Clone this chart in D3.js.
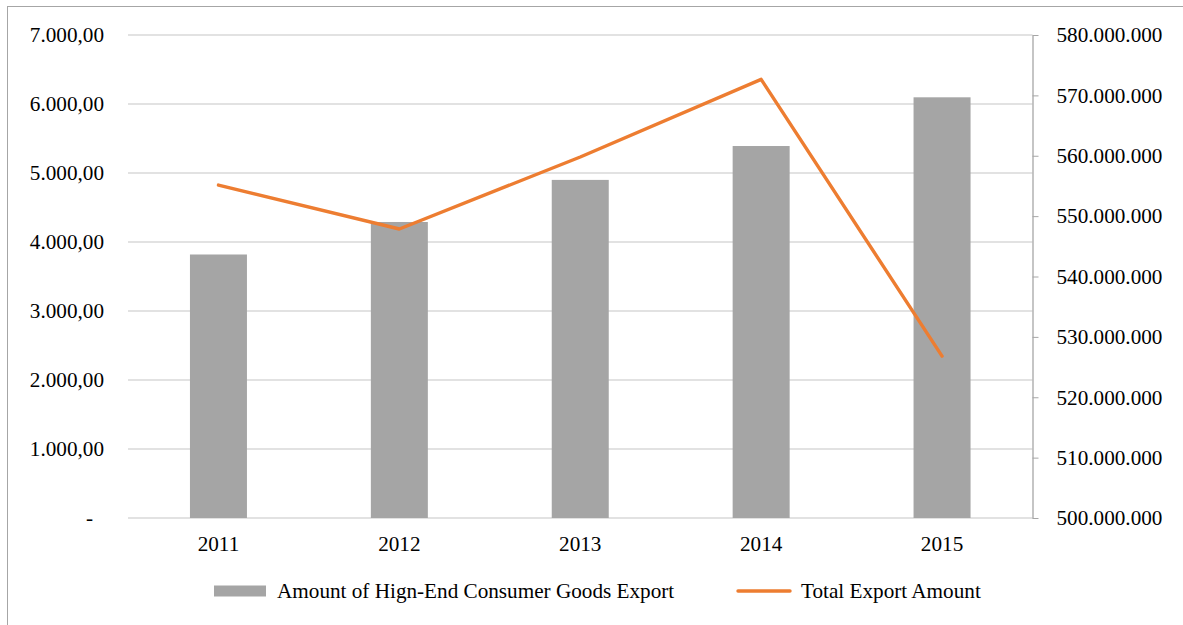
<!DOCTYPE html>
<html>
<head>
<meta charset="utf-8">
<script src="https://cdn.jsdelivr.net/npm/d3@7"></script>
<style>
  html, body { margin: 0; padding: 0; background: #fff; }
  svg { display: block; }
  text { font-family: "Liberation Serif", "Times New Roman", serif; fill: #000; }
</style>
</head>
<body>
<svg id="chart" width="1183" height="625"></svg>
<script>
// Export data, 2011–2015
const years = ["2011", "2012", "2013", "2014", "2015"];
const highEndExport = [3819, 4290, 4900, 5391, 6097];
const totalExport = [555150000, 547870000, 559800000, 572660000, 526800000];

const leftTicks = [0, 1000, 2000, 3000, 4000, 5000, 6000, 7000];
const leftTickLabels = ["-", "1.000,00", "2.000,00", "3.000,00", "4.000,00", "5.000,00", "6.000,00", "7.000,00"];
const rightTicks = [500e6, 510e6, 520e6, 530e6, 540e6, 550e6, 560e6, 570e6, 580e6];
const rightTickLabels = ["500.000.000", "510.000.000", "520.000.000", "530.000.000", "540.000.000",
                         "550.000.000", "560.000.000", "570.000.000", "580.000.000"];

const seriesNames = ["Amount of Hign-End Consumer Goods Export", "Total Export Amount"];

const FONT = "21.2px";
const svg = d3.select("#chart");
const W = 1183, H = 625;
const plot = { left: 128, right: 1032.5, top: 35, bottom: 518 };

// outer frame
svg.append("rect")
  .attr("x", 7.5).attr("y", 6.5)
  .attr("width", W).attr("height", H)
  .attr("fill", "none").attr("stroke", "#a6a6a6").attr("stroke-width", 1);

const x = d3.scaleBand().domain(years).range([plot.left, plot.right]).paddingInner(0).paddingOuter(0);
const yL = d3.scaleLinear().domain([0, 7000]).range([plot.bottom, plot.top]);
const yR = d3.scaleLinear().domain([500e6, 580e6]).range([plot.bottom, plot.top]);

// horizontal gridlines
svg.append("g")
  .selectAll("line").data(leftTicks).join("line")
  .attr("x1", plot.left).attr("x2", plot.right)
  .attr("y1", d => yL(d)).attr("y2", d => yL(d))
  .attr("stroke", "#d9d9d9").attr("stroke-width", 1.5);

// left axis labels
const leftAxis = d3.axisLeft(yL)
  .tickValues(leftTicks)
  .tickFormat((d, i) => leftTickLabels[i])
  .tickSize(0).tickPadding(24);
const gL = svg.append("g").attr("transform", `translate(${plot.left},0)`).call(leftAxis);
gL.select(".domain").remove();
gL.selectAll("text").style("font-size", FONT).attr("fill", "#000")
  .attr("dx", (d) => d === 0 ? -11 : 0);

// right axis
const rightAxis = d3.axisRight(yR)
  .tickValues(rightTicks)
  .tickFormat((d, i) => rightTickLabels[i])
  .tickSize(6).tickSizeOuter(0).tickPadding(18);
const gR = svg.append("g").attr("transform", `translate(${plot.right},0)`).call(rightAxis);
gR.select(".domain").attr("stroke", "#a6a6a6").attr("stroke-width", 1.3);
gR.selectAll(".tick line").attr("stroke", "#a6a6a6");
gR.selectAll("text").style("font-size", FONT).attr("fill", "#000");

// bars
const barW = 57;
svg.append("g")
  .selectAll("rect").data(years).join("rect")
  .attr("x", d => x(d) + x.bandwidth() / 2 - barW / 2)
  .attr("width", barW)
  .attr("y", (d, i) => yL(highEndExport[i]))
  .attr("height", (d, i) => yL(0) - yL(highEndExport[i]))
  .attr("fill", "#a5a5a5");

// total export line
const line = d3.line()
  .x((d, i) => x(years[i]) + x.bandwidth() / 2)
  .y(d => yR(d));
svg.append("path")
  .datum(totalExport)
  .attr("d", line)
  .attr("fill", "none")
  .attr("stroke", "#ed7d31")
  .attr("stroke-width", 3.4)
  .attr("stroke-linejoin", "round")
  .attr("stroke-linecap", "round");

// category labels
const xAxis = d3.axisBottom(x).tickSize(0).tickPadding(18);
const gX = svg.append("g").attr("transform", `translate(0,${plot.bottom})`).call(xAxis);
gX.select(".domain").remove();
gX.selectAll("text").style("font-size", FONT).attr("fill", "#000");

// legend
const lg = svg.append("g");
lg.append("rect").attr("x", 214).attr("y", 585.5).attr("width", 52).attr("height", 11).attr("fill", "#a5a5a5");
lg.append("text").attr("x", 277).attr("y", 591).attr("dy", "0.35em")
  .style("font-size", FONT).text(seriesNames[0]);
lg.append("line").attr("x1", 738).attr("x2", 790).attr("y1", 591).attr("y2", 591)
  .attr("stroke", "#ed7d31").attr("stroke-width", 3.4).attr("stroke-linecap", "round");
lg.append("text").attr("x", 801).attr("y", 591).attr("dy", "0.35em")
  .style("font-size", FONT).text(seriesNames[1]);
</script>
</body>
</html>
